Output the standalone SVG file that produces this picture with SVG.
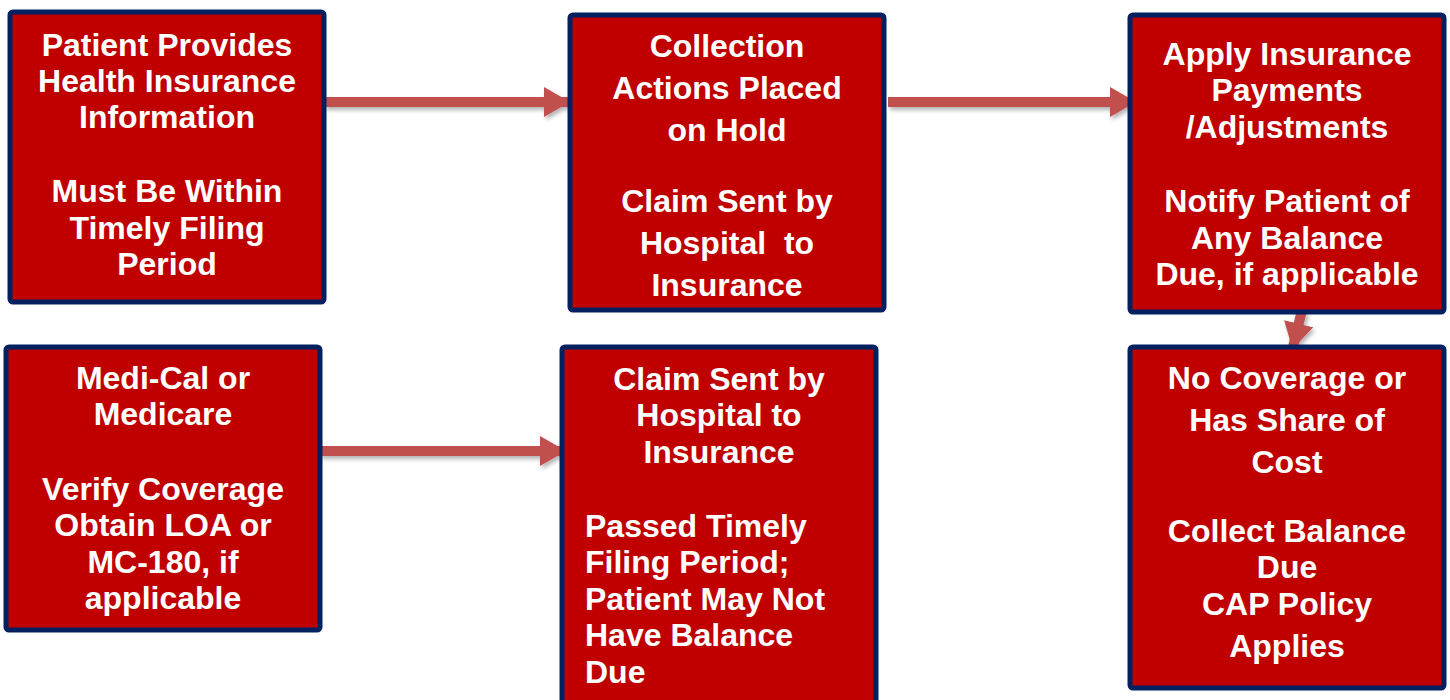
<svg xmlns="http://www.w3.org/2000/svg" width="1450" height="700" viewBox="0 0 1450 700">
<style>
.box{fill:#C00000;stroke:#002060;stroke-width:5}
.t{font-family:"Liberation Sans",Arial,sans-serif;font-weight:bold;font-size:32px;fill:#FFFFFF;text-anchor:middle}
.l{text-anchor:start}
.arr{fill:none;stroke:#C0504D;stroke-width:10}
</style>
<defs>
<marker id="ah" markerUnits="userSpaceOnUse" markerWidth="26" markerHeight="30" refX="24" refY="15" orient="auto">
<path d="M0,0 L26,15 L0,30 Z" fill="#C0504D"/>
</marker>
<filter id="sh" x="-10%" y="-50%" width="120%" height="200%">
<feDropShadow dx="2" dy="3" stdDeviation="2" flood-color="#000" flood-opacity="0.3"/>
</filter>
</defs>
<rect width="1450" height="700" fill="#FFFFFF"/>
<g id="connectors" filter="url(#sh)">
<line class="arr" x1="324" y1="102" x2="568" y2="102" marker-end="url(#ah)"/>
<line class="arr" x1="888" y1="102" x2="1134" y2="102" marker-end="url(#ah)"/>
<line class="arr" x1="320" y1="451" x2="564" y2="451" marker-end="url(#ah)"/>
<line class="arr" x1="1302" y1="310" x2="1293" y2="347" marker-end="url(#ah)"/>
</g>
<g id="n1">
<rect class="box" x="10" y="12" width="314" height="290" rx="3"/>
<text class="t" x="167" y="56">Patient Provides</text>
<text class="t" x="167" y="92">Health Insurance</text>
<text class="t" x="167" y="128">Information</text>
<text class="t" x="167" y="202">Must Be Within</text>
<text class="t" x="167" y="239">Timely Filing</text>
<text class="t" x="167" y="275">Period</text>
</g>
<g id="n2">
<rect class="box" x="570" y="15" width="314" height="295" rx="3"/>
<text class="t" x="727" y="57">Collection</text>
<text class="t" x="727" y="99">Actions Placed</text>
<text class="t" x="727" y="141">on Hold</text>
<text class="t" x="727" y="212">Claim Sent by</text>
<text class="t" x="727" y="254" xml:space="preserve">Hospital  to</text>
<text class="t" x="727" y="296">Insurance</text>
</g>
<g id="n3">
<rect class="box" x="1130" y="15" width="314" height="297" rx="3"/>
<text class="t" x="1287" y="65">Apply Insurance</text>
<text class="t" x="1287" y="101">Payments</text>
<text class="t" x="1287" y="138">/Adjustments</text>
<text class="t" x="1287" y="212">Notify Patient of</text>
<text class="t" x="1287" y="249">Any Balance</text>
<text class="t" x="1287" y="285">Due, if applicable</text>
</g>
<g id="n4">
<rect class="box" x="6" y="347" width="314" height="283" rx="3"/>
<text class="t" x="163" y="389">Medi-Cal or</text>
<text class="t" x="163" y="425">Medicare</text>
<text class="t" x="163" y="500">Verify Coverage</text>
<text class="t" x="163" y="536">Obtain LOA or</text>
<text class="t" x="163" y="573">MC-180, if</text>
<text class="t" x="163" y="609">applicable</text>
</g>
<g id="n5">
<rect class="box" x="562" y="347" width="314" height="360" rx="3"/>
<text class="t" x="719" y="390">Claim Sent by</text>
<text class="t" x="719" y="426">Hospital to</text>
<text class="t" x="719" y="463">Insurance</text>
<text class="t l" x="585" y="537">Passed Timely</text>
<text class="t l" x="585" y="573">Filing Period;</text>
<text class="t l" x="585" y="610">Patient May Not</text>
<text class="t l" x="585" y="646">Have Balance</text>
<text class="t l" x="585" y="683">Due</text>
</g>
<g id="n6">
<rect class="box" x="1130" y="347" width="314" height="341" rx="3"/>
<text class="t" x="1287" y="389">No Coverage or</text>
<text class="t" x="1287" y="431">Has Share of</text>
<text class="t" x="1287" y="473">Cost</text>
<text class="t" x="1287" y="542">Collect Balance</text>
<text class="t" x="1287" y="578">Due</text>
<text class="t" x="1287" y="615">CAP Policy</text>
<text class="t" x="1287" y="657">Applies</text>
</g>
</svg>
